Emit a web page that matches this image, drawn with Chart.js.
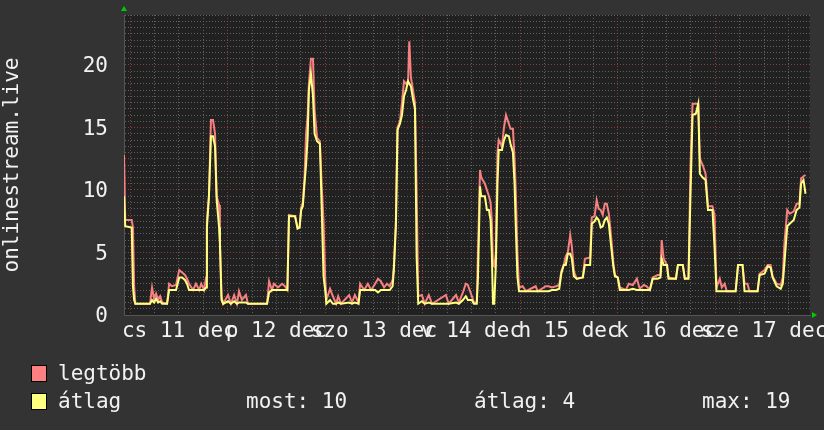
<!DOCTYPE html>
<html>
<head>
<meta charset="utf-8">
<script src="https://cdn.jsdelivr.net/npm/chart.js@4"></script>
<style>
  body { margin: 0; background: #333; }
  #wrap { position: relative; width: 824px; height: 430px; }
  .leg { position: absolute; font: 21px "DejaVu Sans Mono", monospace; color: #f2f2f2; line-height: 24px; white-space: pre; }
  .box { position: absolute; width: 14px; height: 15px; border: 1px solid #000; }
</style>
</head>
<body>
<div id="wrap">
  <canvas id="graph" width="824" height="430"></canvas>
  <div class="box" style="left:31px;top:365px;background:#ff8080"></div>
  <div class="leg" style="left:58px;top:361px">legtöbb</div>
  <div class="box" style="left:31px;top:393px;background:#ffff80"></div>
  <div class="leg" style="left:58px;top:389px">átlag</div>
  <div class="leg" style="left:246px;top:389px">most: 10</div>
  <div class="leg" style="left:474px;top:389px">átlag: 4</div>
  <div class="leg" style="left:702px;top:389px">max: 19</div>
</div>
<script>
// hours since dec 11 00:00
const hours = [-1.5, -1.2, 0.4, 0.7, 1.0, 1.3, 4.9, 5.4, 5.9, 6.4, 6.9, 7.4, 7.9, 9.1, 9.6, 10.3, 11.3, 12.1, 12.8, 13.5,
  14.0, 14.5, 15.5, 16.2, 17.0, 17.5, 18.2, 18.7, 18.9, 19.4, 19.9, 20.4, 20.9, 21.3, 21.9, 22.1, 22.5, 22.9, 24.1, 24.8,
  25.6, 26.3, 26.8, 27.5, 28.5, 29.0, 33.7, 34.2, 34.9, 35.4, 36.4, 37.4, 38.1, 38.7, 39.1, 40.6, 41.2, 41.7, 42.1, 42.5,
  42.9, 43.3, 43.7, 44.0, 44.5, 45.0, 45.4, 46.0, 46.7, 47.2, 47.6, 48.0, 48.3, 49.2, 49.9, 50.7, 51.2, 51.9, 53.9, 54.6,
  55.3, 56.2, 56.6, 57.6, 58.5, 59.3, 60.3, 61.0, 61.7, 62.5, 63.2, 63.9, 64.6, 64.9, 65.4, 65.8, 66.4, 66.9, 67.4, 67.9,
  68.4, 68.7, 69.1, 69.6, 70.1, 70.5, 70.9, 71.8, 72.5, 73.5, 74.3, 77.7, 78.4, 80.2, 80.9, 81.9, 82.6, 83.1, 84.1, 84.6,
  85.3, 85.6, 86.1, 86.4, 87.3, 87.8, 88.3, 88.7, 89.0, 89.3, 89.6, 90.0, 90.4, 90.7, 91.5, 92.0, 92.5, 93.2, 93.6, 94.2,
  94.6, 94.9, 95.3, 95.7, 96.6, 97.4, 99.8, 100.3, 102.3, 103.0, 103.8, 104.8, 105.6, 106.1, 106.7, 107.2, 107.7, 108.3, 108.7, 109.2,
  109.9, 111.4, 111.9, 113.2, 113.6, 114.3, 114.8, 115.3, 115.8, 116.3, 116.8, 117.3, 117.8, 118.3, 118.9, 119.3, 120.0, 120.5, 122.0, 122.7,
  123.7, 124.7, 125.4, 126.4, 127.1, 127.9, 128.6, 129.8, 130.5, 130.8, 131.3, 132.1, 132.5, 134.3, 134.8, 136.0, 136.5, 137.4, 137.9, 138.4,
  139.2, 139.8, 140.2, 140.9, 141.6, 142.2, 143.3, 143.8, 144.3, 145.1, 145.6, 146.3, 146.8, 149.0, 149.6, 150.7, 151.2, 151.9, 152.4, 154.4,
  154.9, 156.1, 156.9, 157.6, 158.1, 159.1, 160.1, 160.6, 161.0, 161.7, 162.3, 163.3, 164.0, 164.7, 165.1, 165.7, 166.2];

const legtobb = [12.8, 7.6, 7.6, 7.0, 2.3, 0.9, 0.9, 2.2, 1.3, 1.7, 1.2, 1.5, 1.0, 0.9, 2.5, 2.3, 2.4, 3.6, 3.4, 3.2,
  2.9, 2.5, 2.0, 2.5, 2.0, 2.5, 2.0, 3.0, 7.5, 9.5, 15.6, 15.6, 14.5, 9.5, 8.8, 6.0, 1.5, 0.9, 1.6, 0.9,
  1.6, 0.9, 1.9, 1.2, 1.6, 0.9, 0.9, 2.7, 2.0, 2.5, 2.2, 2.5, 2.3, 2.0, 8.0, 7.9, 7.0, 7.0, 8.6, 9.0,
  10.8, 14.5, 16.0, 18.5, 20.5, 20.5, 16.4, 14.2, 13.9, 10.0, 7.5, 3.0, 1.2, 2.1, 1.5, 0.9, 1.5, 0.9, 1.6, 1.0,
  1.6, 1.0, 2.5, 2.0, 2.5, 2.0, 2.5, 2.9, 2.7, 2.2, 2.5, 2.3, 2.8, 3.9, 7.5, 15.0, 15.5, 17.0, 18.7, 18.5,
  18.7, 21.9, 19.0, 18.0, 17.0, 10.0, 1.5, 1.6, 0.9, 1.6, 0.9, 1.6, 0.9, 1.6, 1.0, 1.8, 2.5, 2.4, 1.5, 1.0,
  1.0, 5.0, 11.6, 11.0, 10.5, 10.0, 9.5, 9.0, 7.6, 4.0, 3.9, 5.0, 13.0, 14.0, 13.5, 15.0, 16.0, 15.3, 14.9, 14.9,
  12.5, 10.0, 5.0, 2.2, 2.3, 1.9, 2.3, 1.9, 2.3, 2.3, 2.2, 2.3, 2.4, 3.5, 4.0, 4.7, 5.0, 6.4, 5.5, 3.5,
  2.9, 3.0, 4.5, 4.6, 7.8, 7.9, 9.2, 8.5, 8.4, 8.0, 8.9, 8.9, 8.1, 6.5, 4.2, 3.2, 3.0, 2.2, 2.0, 2.5,
  2.4, 2.9, 2.1, 2.4, 2.3, 2.0, 3.0, 3.2, 3.2, 6.0, 4.5, 4.0, 3.0, 2.9, 4.0, 4.0, 2.9, 3.0, 12.0, 16.9,
  16.9, 16.9, 12.5, 12.0, 11.3, 8.7, 8.7, 8.0, 2.2, 2.9, 2.2, 2.5, 1.9, 1.9, 4.0, 4.0, 2.5, 2.5, 1.9, 1.9,
  3.3, 3.6, 4.0, 4.0, 3.1, 2.5, 2.4, 3.0, 5.7, 8.4, 8.1, 8.3, 8.9, 8.9, 10.9, 11.1, 11.2];

const atlag = [9.5, 7.1, 7.0, 2.3, 1.2, 0.9, 0.9, 1.2, 1.0, 1.3, 1.0, 1.1, 0.9, 0.9, 2.0, 2.0, 2.0, 3.0, 3.0, 2.8,
  2.5, 2.0, 2.0, 2.0, 2.0, 2.0, 2.0, 2.2, 7.0, 9.5, 14.3, 14.3, 13.5, 9.2, 7.0, 5.7, 1.2, 0.9, 1.1, 0.9,
  1.1, 0.9, 1.0, 1.0, 1.0, 0.9, 0.9, 1.8, 2.0, 2.0, 2.0, 2.0, 2.0, 2.0, 7.9, 7.9, 6.9, 7.0, 8.4, 8.7,
  10.5, 12.0, 14.3, 18.0, 19.3, 17.5, 14.5, 13.9, 13.7, 7.9, 3.1, 2.0, 0.9, 1.2, 0.9, 0.9, 1.0, 0.9, 1.0, 0.9,
  1.0, 0.9, 2.0, 2.0, 2.0, 2.0, 2.0, 1.8, 2.0, 2.0, 2.0, 2.0, 2.3, 3.6, 7.1, 14.8, 15.3, 16.0, 17.5, 18.0,
  18.7, 18.5, 18.3, 17.3, 16.5, 4.7, 0.9, 1.1, 0.9, 1.0, 0.9, 0.9, 0.9, 1.0, 0.9, 1.2, 1.5, 1.2, 1.2, 0.9,
  0.9, 3.0, 10.3, 9.5, 9.5, 8.4, 8.4, 7.6, 5.0, 0.9, 0.9, 4.0, 10.5, 13.2, 13.2, 14.0, 14.4, 14.3, 13.7, 13.0,
  10.5, 7.1, 3.1, 1.9, 1.9, 1.9, 1.9, 1.9, 1.9, 1.9, 2.0, 2.0, 2.1, 3.3, 4.0, 4.0, 4.9, 4.9, 4.5, 3.1,
  2.9, 3.0, 4.0, 4.0, 7.3, 7.5, 7.8, 7.6, 7.0, 7.1, 7.6, 7.8, 7.3, 5.7, 3.9, 3.1, 3.0, 2.0, 2.0, 2.0,
  2.1, 2.0, 2.0, 2.0, 2.0, 2.0, 2.9, 2.9, 3.0, 4.5, 4.0, 4.0, 2.9, 2.9, 4.0, 4.0, 2.9, 2.9, 9.7, 16.0,
  16.1, 16.9, 11.3, 11.0, 10.8, 8.4, 8.4, 5.5, 1.9, 1.9, 1.9, 1.9, 1.9, 1.9, 4.0, 4.0, 1.9, 1.9, 1.9, 1.9,
  3.2, 3.3, 3.9, 3.8, 3.0, 2.3, 2.1, 2.5, 4.1, 7.1, 7.3, 7.6, 8.4, 8.6, 10.5, 10.8, 9.7];

const dayLabels = ["cs 11 dec", "p 12 dec", "szo 13 dec", "v 14 dec", "h 15 dec", "k 16 dec", "sze 17 dec"];
const yLabels = [0, 5, 10, 15, 20];

const FONT = "DejaVu Sans Mono";
const GRID_MINOR = "#606060";
const GRID_MAJOR = "#8a3a3a";

const canvasBg = {
  id: "canvasBg",
  beforeDraw(chart) {
    const { ctx, chartArea: a } = chart;
    ctx.save();
    ctx.fillStyle = "#212121";
    ctx.fillRect(a.left, a.top, a.right - a.left, a.bottom - a.top);
    ctx.restore();
  },
  afterDraw(chart) {
    const { ctx, chartArea: a } = chart;
    ctx.save();
    ctx.fillStyle = "#00cc00";
    ctx.beginPath();
    ctx.moveTo(a.left - 3, a.top - 4);
    ctx.lineTo(a.left + 3, a.top - 4);
    ctx.lineTo(a.left, a.top - 9);
    ctx.fill();
    ctx.beginPath();
    ctx.moveTo(a.right + 2, a.bottom - 3);
    ctx.lineTo(a.right + 2, a.bottom + 3);
    ctx.lineTo(a.right + 7, a.bottom);
    ctx.fill();
    ctx.restore();
  }
};

new Chart(document.getElementById("graph"), {
  type: "line",
  data: {
    datasets: [
      {
        label: "átlag",
        data: hours.map((h, i) => ({ x: h, y: atlag[i] })),
        borderColor: "#ffff80",
        borderWidth: 2,
        order: 0
      },
      {
        label: "legtöbb",
        data: hours.map((h, i) => ({ x: h, y: legtobb[i] })),
        borderColor: "#f78080",
        borderWidth: 2,
        order: 1
      }
    ]
  },
  options: {
    responsive: false,
    animation: false,
    events: [],
    elements: { point: { radius: 0 }, line: { tension: 0 } },
    layout: { padding: { top: 15, right: 14, left: 0, bottom: 0 } },
    plugins: { legend: { display: false }, tooltip: { enabled: false } },
    scales: {
      x: {
        type: "linear",
        min: -1.5,
        max: 167.3,
        afterBuildTicks: axis => {
          const t = [];
          for (let h = 0; h <= 166; h += 6) t.push({ value: h });
          axis.ticks = t;
        },
        afterFit: axis => {
          axis.height = 115;
          axis.paddingLeft = 0;
          axis.paddingRight = 0;
        },
        grid: {
          color: c => (c.tick && c.tick.value % 24 === 0) ? GRID_MAJOR : GRID_MINOR,
          lineWidth: 1,
          drawTicks: false
        },
        border: { display: true, color: "#555", dash: [1, 2] },
        ticks: {
          autoSkip: false,
          maxRotation: 0,
          minRotation: 0,
          padding: 4,
          color: "#f2f2f2",
          font: { family: FONT, size: 21 },
          callback: v => (v % 24 === 12) ? dayLabels[(v - 12) / 24] : ""
        }
      },
      y: {
        min: 0,
        max: 24,
        afterBuildTicks: axis => {
          const t = [];
          for (let v = 0; v <= 24; v += 0.5) t.push({ value: v });
          axis.ticks = t;
        },
        afterFit: axis => {
          axis.width = 124;
          axis.paddingTop = 0;
          axis.paddingBottom = 0;
        },
        grid: {
          color: c => (c.tick && c.tick.value % 5 === 0 && c.tick.value > 0) ? GRID_MAJOR : GRID_MINOR,
          lineWidth: 1,
          drawTicks: false
        },
        border: { display: true, color: "#555", dash: [1, 2] },
        title: {
          display: true,
          text: "onlinestream.live",
          color: "#f2f2f2",
          font: { family: FONT, size: 21 },
          padding: { top: 0, bottom: 0 }
        },
        ticks: {
          autoSkip: false,
          padding: 16,
          labelOffset: 2,
          color: "#f2f2f2",
          font: { family: FONT, size: 21 },
          callback: v => yLabels.includes(v) ? String(v) : ""
        }
      }
    }
  },
  plugins: [canvasBg]
});
</script>
</body>
</html>
